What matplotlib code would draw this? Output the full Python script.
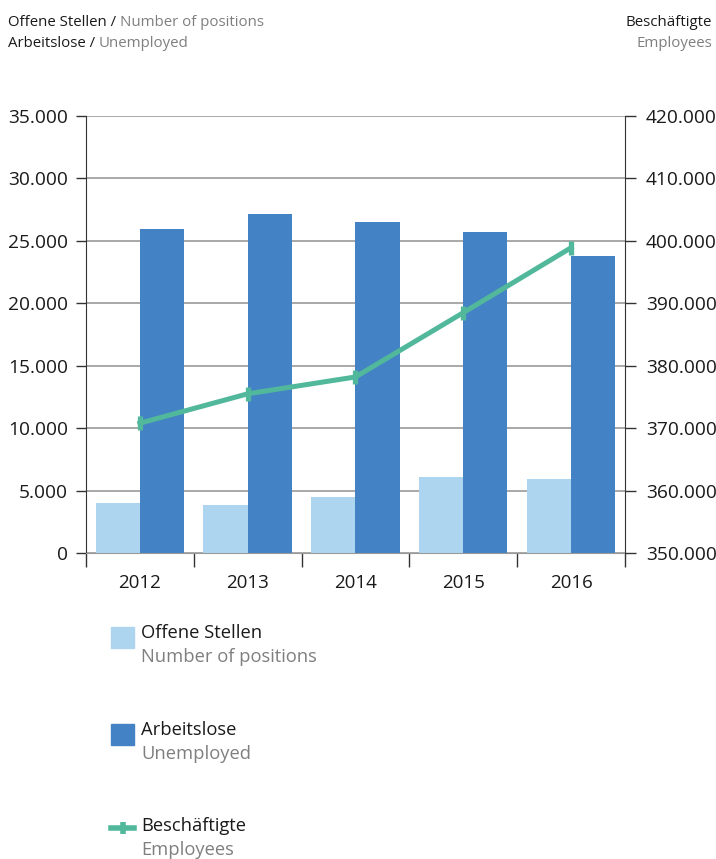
import matplotlib
matplotlib.use('Agg')
import matplotlib.pyplot as plt
from matplotlib.patches import Rectangle
from matplotlib.lines import Line2D
from matplotlib.ticker import FuncFormatter
import numpy as np

plt.rcParams['font.family'] = ['Open Sans', 'DejaVu Sans']

# Daten
jahre = ['2012', '2013', '2014', '2015', '2016']
offene_stellen = [4000, 3850, 4480, 6090, 5930]
arbeitslose = [25950, 27150, 26510, 25710, 23790]
beschaeftigte = [370800, 375500, 378200, 388500, 398900]

hell = '#aed5f0'
dunkel = '#4382c4'
gruen = '#52b89b'
grau = '#7f7f7f'
text_dunkel = '#1a1a1a'

def tausender(v, pos):
    return f'{int(v):,}'.replace(',', '.')

fig = plt.figure(figsize=(7.16, 8.59), dpi=100)
ax = fig.add_axes([0.1201, 0.3562, 0.7528, 0.5088])

x = np.arange(len(jahre))
breite = 0.41
ax.bar(x - breite / 2, offene_stellen, breite, color=hell, zorder=2)
ax.bar(x + breite / 2, arbeitslose, breite, color=dunkel, zorder=2)

ax.set_xlim(-0.5, len(jahre) - 0.5)
ax.set_ylim(0, 35000)
ax.set_yticks(np.arange(0, 35001, 5000))
ax.yaxis.set_major_formatter(FuncFormatter(tausender))
ax.grid(axis='y', color='#9a9a9a', linewidth=1.2, zorder=0)
ax.set_axisbelow(True)

ax.set_xticks(x)
ax.set_xticklabels(jahre)
ax.set_xticks(np.arange(-0.5, len(jahre)), minor=True)
ax.tick_params(axis='x', which='major', length=0, pad=15, labelsize=13.5, labelcolor=text_dunkel)
ax.tick_params(axis='x', which='minor', length=10, width=1, color='#333333', direction='out')
ax.tick_params(axis='y', length=7, width=1, pad=6, color='#333333', labelsize=13.8, labelcolor=text_dunkel)

for s in ['top', 'right']:
    ax.spines[s].set_visible(False)
ax.spines['left'].set_color('#333333')
ax.spines['bottom'].set_color('#9a9a9a')

ax2 = ax.twinx()
ax2.plot(x, beschaeftigte, color=gruen, linewidth=3.6, marker='|', markersize=10,
         markeredgewidth=3.8, zorder=5)
ax2.set_ylim(350000, 420000)
ax2.set_yticks(np.arange(350000, 420001, 10000))
ax2.yaxis.set_major_formatter(FuncFormatter(tausender))
ax2.tick_params(axis='y', length=8, width=1, pad=7, color='#333333', labelsize=13.8, labelcolor=text_dunkel)
for s in ['top', 'left', 'bottom']:
    ax2.spines[s].set_visible(False)
ax2.spines['right'].set_color('#333333')

# Kopfzeilen
def zweifarbig(xp, yp, a, b, size=10.8, ha='left'):
    t = fig.text(xp, yp, a + ' / ', color=text_dunkel, fontsize=size, ha=ha, va='baseline')
    fig.canvas.draw()
    bb = t.get_window_extent()
    fig.text(bb.x1 / fig.bbox.width, yp, b, color=grau, fontsize=size, ha='left', va='baseline')

zweifarbig(8 / 716, 1 - 26 / 859, 'Offene Stellen', 'Number of positions')
zweifarbig(8 / 716, 1 - 47 / 859, 'Arbeitslose', 'Unemployed')
fig.text(712 / 716, 1 - 26 / 859, 'Beschäftigte', color=text_dunkel, fontsize=10.8, ha='right', va='baseline')
fig.text(712 / 716, 1 - 47 / 859, 'Employees', color=grau, fontsize=10.8, ha='right', va='baseline')

# Legende
W, H = 716, 859
eintraege = [
    ('Offene Stellen', 'Number of positions', 627, 'box', hell),
    ('Arbeitslose', 'Unemployed', 724, 'box', dunkel),
    ('Beschäftigte', 'Employees', 820, 'line', gruen),
]
for de, en, top, art, farbe in eintraege:
    if art == 'box':
        fig.add_artist(Rectangle((111 / W, 1 - (top + 21) / H), 23 / W, 21 / H,
                                 transform=fig.transFigure, color=farbe))
    else:
        my = 1 - (top + 8) / H
        fig.add_artist(Line2D([111 / W, 134 / W], [my, my], transform=fig.transFigure,
                              color=farbe, linewidth=4))
        fig.add_artist(Line2D([122.5 / W], [my], transform=fig.transFigure, color=farbe,
                              marker='|', markersize=9, markeredgewidth=4, linestyle='none'))
    fig.text(141 / W, 1 - (top + 11) / H, de, color=text_dunkel, fontsize=13.2, va='baseline')
    fig.text(141 / W, 1 - (top + 35) / H, en, color=grau, fontsize=13.2, va='baseline')

fig.savefig('out.png', dpi=100)
